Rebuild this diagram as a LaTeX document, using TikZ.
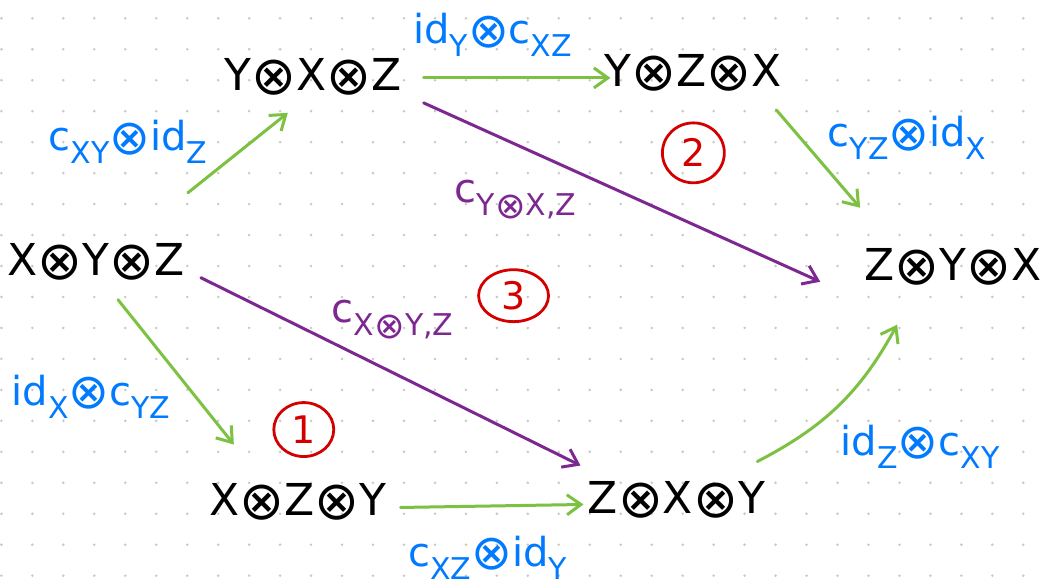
\documentclass[tikz,border=0pt]{standalone}
\usepackage{fontspec}
\setmainfont{DejaVu Sans}
\usepackage{graphicx}
\usepackage{tikz}
\usetikzlibrary{arrows.meta,shapes.geometric}
\definecolor{NoteGreen}{RGB}{124,193,66}
\definecolor{NoteBlue}{RGB}{0,122,255}
\definecolor{NotePurple}{RGB}{125,40,145}
\definecolor{NoteRed}{RGB}{212,0,0}
\definecolor{NoteDot}{RGB}{200,200,200}
\newcommand{\lo}[1]{\raisebox{-0.6ex}{\fontsize{15}{15}\selectfont #1}}
\newcommand{\ot}{\raisebox{-0.09em}{\scalebox{1.22}{⊗}}}

\begin{document}
\begin{tikzpicture}[
    x=0.5pt, y=0.5pt,
    obj/.style={inner sep=0pt, font=\fontsize{22}{26}\selectfont},
    lbl/.style={inner sep=0pt, text=NoteBlue, font=\fontsize{20}{24}\selectfont},
    plbl/.style={lbl, text=NotePurple},
    tag/.style={ellipse, draw=NoteRed, text=NoteRed, line width=1.4pt, inner sep=0pt, font=\fontsize{19}{22}\selectfont},
    line/.style={draw=NoteGreen, line width=1.5pt, line cap=round, -{Straight Barb[length=7pt,width=10pt]}},
    pline/.style={line, draw=NotePurple}
]
% Paper
\fill[white] (0,0) rectangle (1045,586);
\foreach \i in {0,...,33}
  \foreach \j in {0,...,18}
    \fill[NoteDot] (31*\i+0.3, 567.7-31*\j) circle[radius=0.7pt];
\useasboundingbox (0,0) rectangle (1045,586);

% Place nodes
\node [obj] (xyz) at (95,324) {X\ot Y\ot Z};
\node [obj] (yxz) at (312,509) {Y\ot X\ot Z};
\node [obj] (yzx) at (693,513) {Y\ot Z\ot X};
\node [obj] (zyx) at (953,319) {Z\ot Y\ot X};
\node [obj] (xzy) at (297,84) {X\ot Z\ot Y};
\node [obj] (zxy) at (676,86) {Z\ot X\ot Y};

% Labels
\node [lbl] (l1) at (127,444) {c\lo{XY}\ot id\lo{Z}};
\node [lbl] (l2) at (492,551) {id\lo{Y}\ot c\lo{XZ}};
\node [lbl] (l3) at (907,448) {c\lo{YZ}\ot id\lo{X}};
\node [lbl] (l4) at (90,189) {id\lo{X}\ot c\lo{YZ}};
\node [lbl] (l5) at (487,28) {c\lo{XZ}\ot id\lo{Y}};
\node [lbl] (l6) at (920,139) {id\lo{Z}\ot c\lo{XY}};
\node [plbl] (l7) at (515,386) {c\lo{Y\ot X,Z}};
\node [plbl] (l8) at (392,266) {c\lo{X\ot Y,Z}};

% Faces
\node [tag, minimum width=31pt, minimum height=30pt] (f2) at (693,433) {2};
\node [tag, minimum width=35pt, minimum height=26pt] (f3) at (513,290) {3};
\node [tag, minimum width=30pt, minimum height=27pt] (f1) at (303,156) {1};

% Draw edges
\draw [line] ([shift={(92,69)}]xyz.center) -- ([shift={(-25,-36)}]yxz.center);
\draw [line] ([shift={(111,-1)}]yxz.center) -- ([shift={(-83,-5)}]yzx.center);
\draw [line] ([shift={(83,-37)}]yzx.center) -- ([shift={(-93,59)}]zyx.center);
\draw [line] ([shift={(22,-38)}]xyz.center) -- ([shift={(-64,57)}]xzy.center);
\draw [line] ([shift={(103,-6)}]xzy.center) -- ([shift={(-93,-5)}]zxy.center);
\draw [line] ([shift={(81,38)}]zxy.center) to[bend right=17] ([shift={(-56,-58)}]zyx.center);
\draw [pline] ([shift={(111,-26)}]yxz.center) -- ([shift={(-133,-15)}]zyx.center);
\draw [pline] ([shift={(105,-16)}]xyz.center) -- ([shift={(-96,34)}]zxy.center);
\end{tikzpicture}
\end{document}
